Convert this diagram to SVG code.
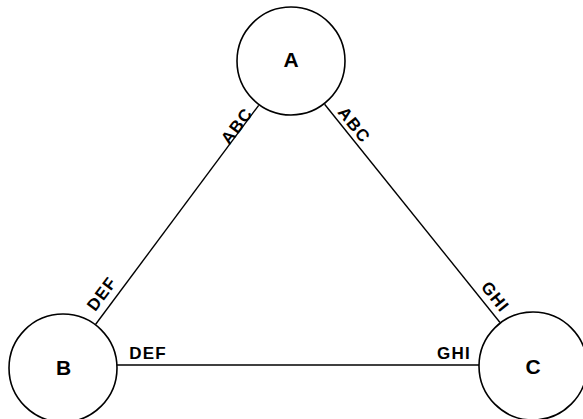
<svg xmlns="http://www.w3.org/2000/svg" width="583" height="419" viewBox="0 0 583 419">
<style>
.node{fill:#fff;stroke:#000;stroke-width:1.6}
.edge{stroke:#000;stroke-width:1.4;fill:none}
.nl{font-family:"Liberation Sans",Arial,sans-serif;font-weight:bold;font-size:21px;text-anchor:middle;fill:#000}
.el{font-family:"Liberation Sans",Arial,sans-serif;font-weight:bold;font-size:17px;letter-spacing:1.2px;text-anchor:middle;fill:#000}
</style>
<rect width="583" height="419" fill="#fff"/>
<g id="connectors">
<line class="edge" x1="258.7" y1="105.3" x2="95.5" y2="324.5"/>
<line class="edge" x1="324.6" y1="104.2" x2="500" y2="322.5"/>
<line class="edge" x1="117" y1="365" x2="479" y2="365"/>
<text class="el" transform="translate(237,126) rotate(-53.3)" x="0" y="5.5">ABC</text>
<text class="el" transform="translate(354,125) rotate(51.5)" x="0" y="5.5">ABC</text>
<text class="el" transform="translate(102,294) rotate(-53.3)" x="0" y="5.5">DEF</text>
<text class="el" transform="translate(495,297) rotate(51.5)" x="0" y="5.5">GHI</text>
<text class="el" x="148" y="359">DEF</text>
<text class="el" x="454" y="359">GHI</text>
</g>
<g id="node-A">
<circle class="node" cx="291" cy="61" r="54"/>
<text class="nl" x="291" y="67">A</text>
</g>
<g id="node-B">
<circle class="node" cx="63" cy="368" r="54"/>
<text class="nl" x="63.5" y="374.5">B</text>
</g>
<g id="node-C">
<circle class="node" cx="533" cy="366" r="54"/>
<text class="nl" x="533" y="374">C</text>
</g>
</svg>
